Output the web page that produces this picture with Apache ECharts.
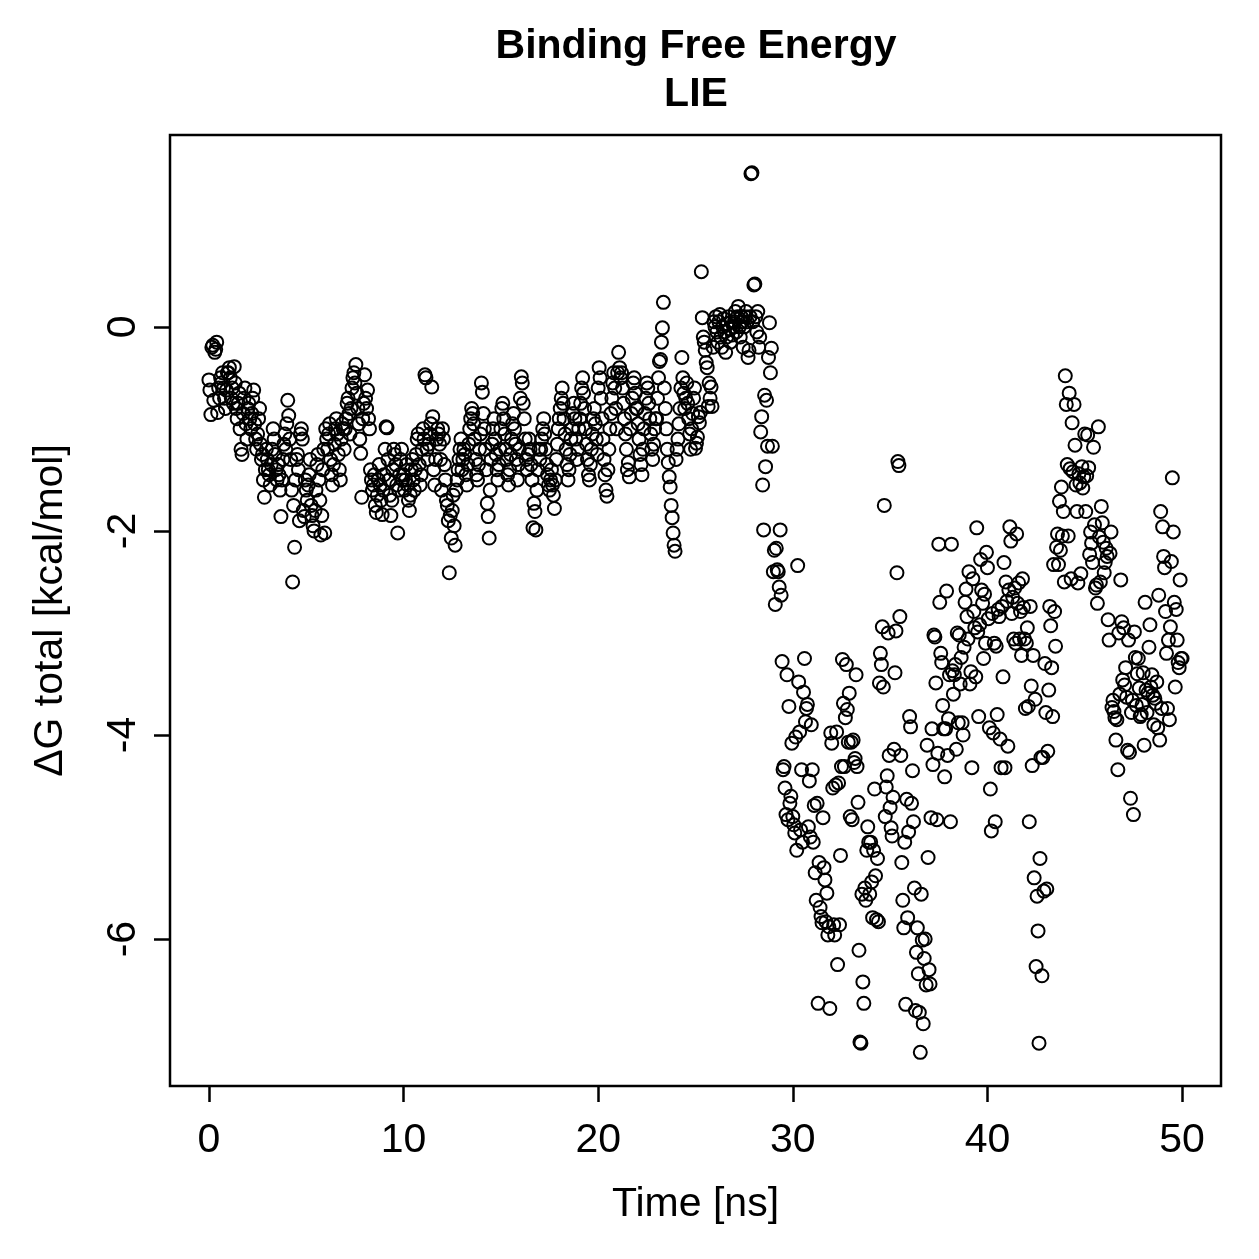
<!DOCTYPE html>
<html>
<head>
<meta charset="utf-8">
<script src="https://cdn.jsdelivr.net/npm/echarts@6/dist/echarts.min.js"></script>
<style>
  html, body { margin: 0; background: #fff; }
  #chart { width: 1259px; height: 1259px; }
</style>
</head>
<body>
<div id="chart"></div>
<script>
// one frame every 0.05 ns, 0 .. 50 ns
const timeStep = 0.05;

// dG total [kcal/mol], 20 values per ns
const dg0to10 = [
  -0.52,-0.62,-0.86,-0.2,-0.18,-0.72,-0.25,-0.22,-0.15,-0.84,-0.6,-0.7,-0.5,-0.55,-0.45,-0.6,-0.7,-0.8,-0.62,-0.45,
  -0.45,-0.4,-0.5,-0.7,-0.6,-0.75,-0.39,-0.55,-0.8,-0.9,-0.75,-0.65,-1.0,-1.2,-1.25,-0.85,-0.7,-0.6,-0.95,-1.1,
  -0.8,-0.75,-0.9,-1.0,-0.85,-0.7,-0.62,-0.95,-1.1,-1.2,-1.05,-0.9,-0.8,-1.15,-1.3,-1.25,-1.5,-1.67,-1.4,-1.2,
  -1.3,-1.4,-1.45,-1.55,-1.35,-1.2,-1.0,-1.1,-1.25,-1.4,-1.5,-1.35,-1.45,-1.6,-1.86,-1.5,-1.3,-1.15,-1.05,-1.2,
  -0.95,-0.72,-0.87,-1.1,-1.3,-1.6,-2.5,-1.75,-2.16,-1.5,-1.3,-1.25,-1.4,-1.9,-1.05,-1.0,-1.1,-1.8,-1.86,-1.5,
  -1.6,-1.7,-1.55,-1.45,-1.3,-1.75,-1.85,-1.95,-2.0,-1.8,-1.6,-1.35,-1.25,-1.5,-1.7,-2.04,-1.85,-1.4,-1.2,-2.02,
  -1.0,-1.1,-1.2,-1.05,-0.95,-1.3,-1.45,-1.55,-1.35,-1.15,-1.0,-0.9,-1.05,-1.25,-1.4,-1.5,-1.1,-0.95,-1.0,-1.2,
  -1.0,-0.9,-0.75,-0.7,-0.85,-1.05,-0.8,-0.6,-0.5,-0.45,-0.55,-0.37,-0.65,-0.8,-0.95,-1.1,-1.24,-1.67,-0.9,-0.75,
  -0.47,-0.7,-0.8,-0.62,-0.9,-1.0,-1.4,-1.5,-1.6,-1.55,-1.45,-1.75,-1.82,-1.65,-1.5,-1.35,-1.55,-1.7,-1.84,-1.6,
  -1.45,-1.2,-0.98,-0.99,-1.3,-1.5,-1.65,-1.85,-1.7,-1.4,-1.2,-1.25,-1.35,-1.55,-2.02,-1.6,-1.45,-1.3,-1.2,-1.5
];
const dg10to20 = [
  -1.45,-1.6,-1.5,-1.35,-1.55,-1.7,-1.8,-1.65,-1.4,-1.3,-1.5,-1.6,-1.4,-1.25,-1.1,-1.05,-1.35,-1.55,-1.45,-1.2,
  -1.0,-1.1,-0.47,-0.5,-1.2,-1.3,-1.15,-1.05,-0.95,-0.59,-0.88,-1.4,-1.55,-1.3,-1.1,-1.0,-1.05,-1.15,-1.3,-1.6,
  -1.0,-1.1,-1.35,-1.5,-1.7,-1.75,-1.9,-2.41,-1.85,-2.07,-1.8,-1.65,-1.95,-2.14,-1.6,-1.5,-1.4,-1.3,-1.2,-1.1,
  -1.4,-1.3,-1.2,-1.25,-1.45,-1.55,-1.35,-1.15,-1.0,-0.9,-0.8,-0.85,-0.95,-1.1,-1.3,-1.45,-1.5,-1.35,-1.2,-1.05,
  -0.55,-0.64,-0.85,-1.0,-1.2,-1.4,-1.73,-1.86,-2.07,-1.6,-1.3,-1.15,-1.0,-0.9,-1.1,-1.25,-1.4,-1.5,-1.35,-1.2,
  -1.0,-0.8,-0.75,-0.9,-1.05,-1.2,-1.3,-1.45,-1.55,-1.4,-1.25,-1.1,-0.95,-0.85,-1.0,-1.15,-1.3,-1.5,-1.35,-1.2,
  -0.7,-0.49,-0.55,-0.75,-0.9,-1.1,-1.3,-1.4,-1.25,-1.1,-1.2,-1.35,-1.5,-1.97,-1.73,-1.81,-1.99,-1.6,-1.4,-1.2,
  -1.3,-1.2,-1.1,-1.0,-0.9,-1.05,-1.2,-1.35,-1.45,-1.55,-1.6,-1.5,-1.4,-1.55,-1.65,-1.78,-1.5,-1.3,-1.15,-1.0,
  -0.9,-0.8,-0.7,-0.6,-0.75,-0.9,-1.05,-1.2,-1.35,-1.5,-1.4,-1.25,-1.1,-1.0,-0.85,-0.75,-0.9,-1.1,-1.3,-1.2,
  -1.0,-0.9,-0.75,-0.6,-0.5,-0.65,-0.8,-1.0,-1.15,-1.3,-1.45,-1.5,-1.35,-1.2,-1.05,-0.9,-0.8,-0.95,-1.1,-1.25
];
const dg20to29 = [
  -0.6,-0.4,-0.5,-0.7,-0.9,-1.1,-1.3,-1.45,-1.6,-1.66,-1.4,-1.2,-1.0,-0.85,-0.7,-0.55,-0.45,-0.6,-0.8,-1.0,
  -0.45,-0.25,-0.4,-0.5,-0.45,-0.6,-0.75,-0.9,-1.05,-1.2,-1.4,-1.33,-1.47,-1.0,-0.85,-0.7,-0.55,-0.5,-0.65,-0.8,
  -0.8,-0.95,-1.1,-1.25,-1.35,-1.45,-1.2,-1.0,-0.85,-0.7,-0.55,-0.6,-0.75,-0.9,-1.05,-1.2,-1.3,-1.15,-1.0,-0.9,
  -0.9,-0.7,-0.5,-0.34,-0.32,-0.15,-0.01,0.24,-0.6,-0.8,-1.0,-1.2,-1.33,-1.47,-1.57,-1.75,-1.87,-2.02,-2.14,-2.2,
  -1.3,-1.2,-1.1,-0.95,-0.8,-0.6,-0.3,-0.5,-0.65,-0.8,-0.7,-0.55,-0.75,-0.9,-1.05,-1.2,-1.0,-0.85,-0.7,-0.6,
  -1.19,-1.14,-1.08,-0.88,-0.94,-0.84,0.54,0.09,-0.1,-0.15,-0.23,-0.35,-0.4,-0.78,-0.55,-0.7,-0.59,-0.78,-0.2,0.05,
  0.0,0.1,-0.05,-0.15,0.05,0.12,-0.1,-0.2,0.0,0.08,-0.05,-0.25,-0.1,0.03,0.1,-0.02,-0.15,0.05,-0.08,0.0,
  0.05,0.15,-0.05,0.1,0.2,0.0,-0.1,0.1,0.05,-0.2,0.0,0.1,0.15,0.05,-0.3,-0.23,0.1,1.5,1.51,0.05,
  0.41,0.42,0.1,-0.05,0.15,-0.2,-0.1,-1.03,-0.88,-1.55,-1.99,-0.67,-1.37,-0.72,-1.17,-0.3,0.04,-0.45,-0.21,-1.17
];
const dg29to40 = [
  -2.4,-2.19,-2.72,-2.17,-2.38,-2.4,-2.55,-1.99,-2.63,-3.28,-4.34,-4.31,-4.52,-4.78,-3.41,-4.83,-3.72,-4.67,-4.6,-4.08,
  -4.8,-4.88,-4.96,-4.02,-5.13,-2.34,-3.48,-3.97,-4.93,-4.34,-5.05,-3.58,-3.25,-3.87,-3.74,-3.7,-4.9,-4.45,-5.0,-3.9,
  -4.34,-5.05,-4.69,-5.35,-5.62,-4.67,-6.63,-5.25,-5.69,-5.78,-5.84,-4.81,-5.3,-5.42,-5.83,-5.55,-5.96,-5.88,-6.68,-3.98,
  -4.08,-4.52,-5.86,-5.96,-4.49,-3.97,-6.25,-4.47,-5.86,-5.18,-4.31,-3.26,-3.69,-4.31,-3.83,-3.31,-3.75,-4.07,-3.59,-4.8,
  -4.07,-4.83,-4.05,-4.27,-4.23,-3.41,-4.31,-4.66,-6.11,-7.01,-7.02,-5.56,-6.42,-6.63,-5.5,-5.62,-5.13,-4.9,-5.05,-5.56,
  -5.05,-5.44,-5.79,-5.13,-4.53,-5.38,-5.81,-5.21,-5.83,-3.49,-3.2,-3.31,-2.94,-3.53,-1.75,-4.8,-4.51,-4.4,-3.0,-4.2,
  -4.71,-4.91,-4.99,-4.61,-4.14,-3.39,-2.98,-2.41,-1.32,-1.36,-2.84,-4.2,-5.25,-5.62,-5.89,-5.05,-6.64,-4.63,-5.79,-4.95,
  -3.82,-3.92,-4.67,-4.35,-4.85,-5.5,-6.7,-6.13,-5.89,-6.34,-6.72,-7.11,-5.56,-6.01,-6.83,-6.19,-6.0,-6.45,-4.1,-5.2,
  -6.3,-6.44,-4.81,-3.94,-4.29,-3.02,-3.04,-3.49,-4.83,-4.18,-2.13,-2.7,-3.2,-3.29,-3.71,-3.94,-4.41,-3.94,-2.59,-4.2,
  -3.84,-3.41,-4.85,-2.13,-3.37,-3.6,-3.41,-3.31,-4.14,-3.0,-3.88,-3.02,-3.5,-3.24,-3.88,-4.0,-3.14,-2.7,-2.57,-2.84,
  -3.06,-2.4,-3.5,-3.38,-4.32,-2.47,-2.79,-2.95,-3.43,-1.97,-2.99,-3.82,-2.92,-2.28,-2.58,-2.71,-3.25,-2.62,-3.1,-2.21
];
const dg40to50 = [
  -2.36,-2.86,-3.93,-4.53,-4.94,-2.81,-3.98,-3.1,-4.85,-3.13,-3.8,-2.77,-2.84,-4.04,-4.32,-2.74,-3.43,-2.31,-4.32,-2.5,
  -2.69,-4.11,-2.58,-1.96,-2.1,-2.81,-2.65,-3.06,-2.56,-3.1,-2.03,-2.71,-2.51,-3.06,-2.79,-3.22,-2.47,-2.75,-3.06,-3.74,
  -3.1,-2.95,-3.72,-4.85,-2.74,-3.52,-4.3,-3.22,-5.4,-3.65,-6.27,-5.58,-5.92,-7.02,-5.21,-4.22,-6.36,-4.22,-5.53,-3.3,
  -3.78,-5.51,-4.16,-3.56,-2.74,-2.93,-3.34,-3.82,-2.33,-2.79,-3.13,-2.16,-2.03,-2.33,-1.71,-2.19,-1.57,-2.05,-1.81,-2.5,
  -0.48,-0.76,-1.35,-2.05,-0.65,-1.39,-2.47,-0.94,-1.42,-0.76,-1.16,-1.55,-1.81,-2.51,-1.44,-1.53,-2.42,-1.37,-1.58,-1.47,
  -1.05,-1.81,-1.46,-1.06,-1.38,-2.23,-2.01,-2.12,-2.31,-1.18,-1.94,-2.56,-2.53,-2.71,-0.98,-2.06,-2.5,-1.76,-1.92,-2.11,
  -2.41,-2.31,-2.17,-2.25,-2.87,-3.07,-2.22,-2.01,-3.73,-3.66,-3.77,-3.83,-4.05,-3.85,-4.34,-3.0,-3.6,-2.48,-2.89,-3.46,
  -2.95,-3.51,-3.34,-3.63,-4.15,-3.07,-4.17,-4.62,-3.78,-3.66,-4.78,-2.99,-3.24,-3.71,-3.4,-3.25,-3.54,-3.82,-3.8,-3.7,
  -3.39,-4.1,-2.7,-3.56,-3.78,-3.59,-3.14,-2.92,-3.53,-3.41,-3.61,-3.9,-3.64,-3.69,-3.48,-3.93,-2.63,-4.05,-1.81,-3.74,
  -1.96,-2.25,-2.36,-2.79,-3.2,-3.74,-3.07,-3.85,-2.94,-2.3,-1.48,-2.01,-2.7,-3.53,-2.77,-3.07,-3.29,-3.34,-2.48,-3.25,
  -3.25
];

const xTicks = [0, 10, 20, 30, 40, 50];
const yTicks = [-6, -4, -2, 0];

const dg = [].concat(dg0to10, dg10to20, dg20to29, dg29to40, dg40to50);
const points = dg.map((v, i) => [+(i * timeStep).toFixed(2), v]);

const font = '"Liberation Sans", Arial, Helvetica, sans-serif';
const chart = echarts.init(document.getElementById('chart'));

chart.setOption({
  backgroundColor: '#fff',
  animation: false,
  graphic: [
    { type: 'text', x: 696, y: 47, style: { text: 'Binding Free Energy', font: 'bold 41px ' + font, fill: '#000', textAlign: 'center', textVerticalAlign: 'middle' } },
    { type: 'text', x: 696, y: 95, style: { text: 'LIE', font: 'bold 41px ' + font, fill: '#000', textAlign: 'center', textVerticalAlign: 'middle' } }
  ],
  grid: {
    left: 170, top: 135, width: 1051, height: 951,
    show: true, borderColor: '#000', borderWidth: 2.5, backgroundColor: 'transparent'
  },
  xAxis: {
    type: 'value', min: -2, max: 52,
    name: 'Time [ns]', nameLocation: 'middle', nameGap: 98,
    nameTextStyle: { fontSize: 41, color: '#000', fontFamily: font },
    axisLine: { show: false, onZero: false },
    splitLine: { show: false },
    axisTick: { show: true, length: 16, customValues: xTicks, lineStyle: { color: '#000', width: 2.5 } },
    axisLabel: { customValues: xTicks, fontSize: 41, color: '#000', fontFamily: font, margin: 34 }
  },
  yAxis: {
    type: 'value', min: -7.44, max: 1.88,
    name: 'ΔG total [kcal/mol]', nameLocation: 'middle', nameGap: 99, nameRotate: 90,
    nameTextStyle: { fontSize: 41, color: '#000', fontFamily: font },
    axisLine: { show: false, onZero: false },
    splitLine: { show: false },
    axisTick: { show: true, length: 16, customValues: yTicks, lineStyle: { color: '#000', width: 2.5 } },
    axisLabel: { customValues: yTicks, rotate: 90, fontSize: 41, color: '#000', fontFamily: font, margin: 26 }
  },
  series: [{
    type: 'scatter',
    data: points,
    symbol: 'circle',
    symbolSize: 13,
    itemStyle: { color: 'rgba(0,0,0,0)', borderColor: '#000', borderWidth: 2, opacity: 1 },
    silent: true
  }]
});
</script>
</body>
</html>
